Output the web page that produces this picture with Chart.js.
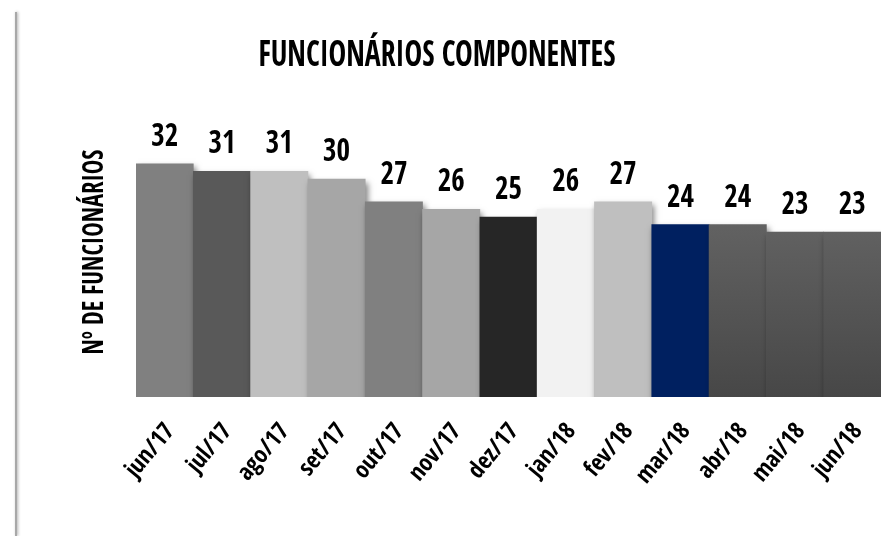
<!DOCTYPE html>
<html><head><meta charset="utf-8">
<script src="https://cdn.jsdelivr.net/npm/chart.js@4.4.0/dist/chart.umd.min.js"></script>
<style>
html,body{margin:0;padding:0;background:#fff;}
#wrap{position:relative;width:888px;height:536px;overflow:hidden;background:#fff;}
#edge{position:absolute;left:15px;top:12px;bottom:0;width:2px;background:#a8a8a8;box-shadow:1px 0 3px rgba(0,0,0,0.35);}
canvas{position:absolute;left:0;top:0;}
</style></head><body>
<div id="wrap"><div id="edge"></div><canvas id="c" width="888" height="536"></canvas></div>
<script>
const chartTitle = 'FUNCIONÁRIOS COMPONENTES';
const yAxisTitle = 'Nº DE FUNCIONÁRIOS';
const categories = ['jun/17','jul/17','ago/17','set/17','out/17','nov/17','dez/17','jan/18','fev/18','mar/18','abr/18','mai/18','jun/18'];
const values = [32,31,31,30,27,26,25,26,27,24,24,23,23];

const barColors = ['#808080','#595959','#bfbfbf','#a6a6a6','#808080','#a6a6a6','#262626','#f2f2f2','#bfbfbf','#002060',null,null,null];
const FONT = "'Open Sans Condensed', 'Roboto Condensed', 'DejaVu Sans Condensed', sans-serif";

const decor = {
  id: 'decor',
  beforeDatasetsDraw(chart) {
    const ctx = chart.ctx;
    ctx.save();
    ctx.shadowColor = 'rgba(0,0,0,0.5)';
    ctx.shadowBlur = 6;
    ctx.shadowOffsetX = 2;
    ctx.shadowOffsetY = 4;
  },
  afterDatasetsDraw(chart) {
    const ctx = chart.ctx;
    ctx.restore();
    const meta = chart.getDatasetMeta(0);
    ctx.save();
    ctx.fillStyle = '#000';
    ctx.textAlign = 'center';
    ctx.textBaseline = 'alphabetic';
    ctx.font = 'bold 32px ' + FONT;
    meta.data.forEach((bar, i) => {
      ctx.fillText(String(values[i]), bar.x, bar.y - 18, 27);
    });
    ctx.restore();
  },
  afterDraw(chart) {
    const ctx = chart.ctx;
    ctx.save();
    ctx.fillStyle = '#000';
    ctx.textAlign = 'center';
    ctx.textBaseline = 'alphabetic';
    ctx.font = 'bold 36px ' + FONT;
    ctx.fillText(chartTitle, 437, 66, 357);
    ctx.translate(103, 252);
    ctx.rotate(-Math.PI / 2);
    ctx.font = 'bold 29px ' + FONT;
    ctx.fillText(yAxisTitle, 0, 0, 205);
    ctx.restore();
  }
};

new Chart(document.getElementById('c'), {
  type: 'bar',
  data: {
    labels: categories,
    datasets: [{
      data: values,
      borderWidth: 0,
      barPercentage: 1,
      categoryPercentage: 1,
      backgroundColor: (c) => {
        const col = barColors[c.dataIndex];
        if (col) return col;
        const area = c.chart.chartArea;
        if (!area) return '#555555';
        const g = c.chart.ctx.createLinearGradient(0, area.top, 0, area.bottom);
        g.addColorStop(0, '#757575');
        g.addColorStop(1, '#474747');
        return g;
      }
    }]
  },
  options: {
    responsive: false,
    animation: false,
    layout: { padding: { left: 136, top: 100, right: 7, bottom: 0 } },
    plugins: { legend: { display: false }, tooltip: { enabled: false }, title: { display: false } },
    scales: {
      y: { display: false, min: 1.3, max: 40.4 },
      x: {
        grid: { display: false },
        border: { display: false },
        ticks: {
          color: '#000',
          font: { family: FONT, weight: 'bold', size: 24 },
          minRotation: 50, maxRotation: 50,
          padding: 13,
          labelOffset: 6
        },
        afterFit: (s) => { s.height = 139; }
      }
    }
  },
  plugins: [decor]
});
</script>
</body></html>
